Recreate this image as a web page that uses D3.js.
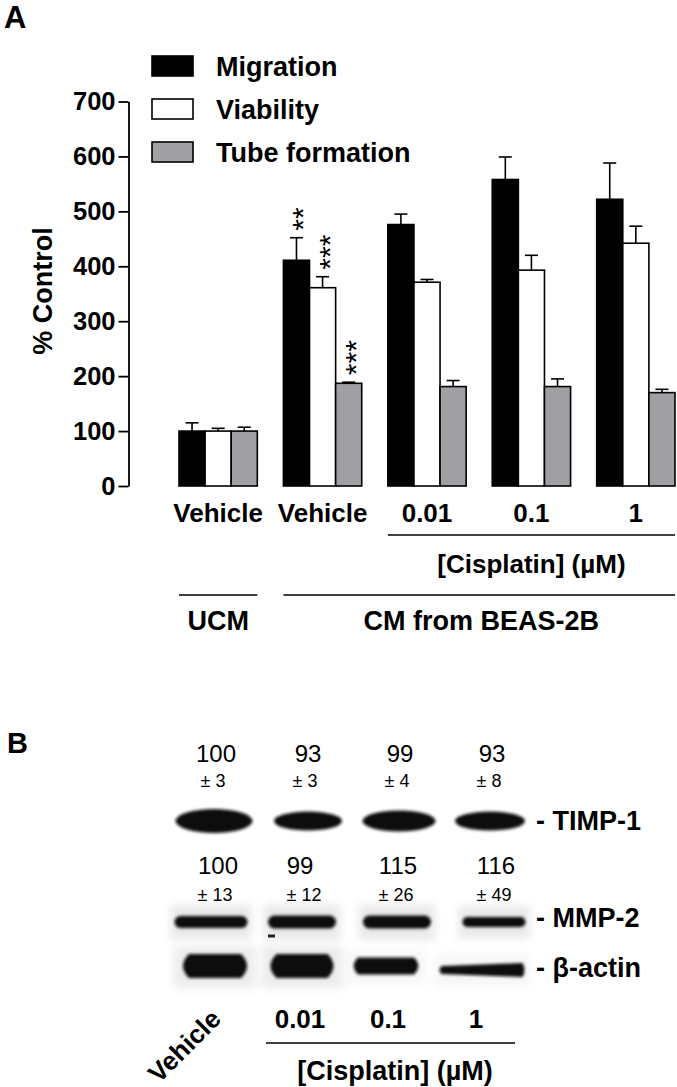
<!DOCTYPE html>
<html><head><meta charset="utf-8">
<script src="https://cdn.jsdelivr.net/npm/d3@7"></script>
<style>html,body{margin:0;padding:0;background:#fff;} svg{display:block;}</style>
</head><body><svg id="c" width="677" height="1087"></svg>
<script>
// ---------- Panel A data ----------
const groups = ["UCM Vehicle", "CM Vehicle", "0.01", "0.1", "1"];
const groupLabels = ["Vehicle", "Vehicle", "0.01", "0.1", "1"];
const seriesNames = ["Migration", "Viability", "Tube formation"];
const migration = [100, 411, 476, 558, 522];
const migrationErr = [15, 41, 19, 41, 66];
const viability = [100, 361, 371, 393, 442];
const viabilityErr = [5, 20, 5, 27, 31];
const tube = [100, 187, 181, 181, 170];
const tubeErr = [7, 2, 11, 14, 6];
const migrationSig = ["", "**", "", "", ""];
const viabilitySig = ["", "***", "", "", ""];
const tubeSig = ["", "***", "", "", ""];
const yTicks = [0, 100, 200, 300, 400, 500, 600, 700];

// ---------- Panel B data ----------
const lanes = ["Vehicle", "0.01", "0.1", "1"];
const timpMean = [100, 93, 99, 93];
const timpSE = [3, 3, 4, 8];
const mmpMean = [100, 99, 115, 116];
const mmpSE = [13, 12, 26, 49];
const blotRows = ["TIMP-1", "MMP-2", "β-actin"];

// ---------- drawing ----------
const F = "'Liberation Sans', Arial, Helvetica, sans-serif";
const svg = d3.select("#c");
svg.append("rect").attr("width", 677).attr("height", 1087).attr("fill", "#fff");

function txt(x, y, s, size, weight, anchor, transform) {
  const t = svg.append("text")
    .attr("font-family", F).attr("font-size", size)
    .attr("font-weight", weight || "normal")
    .attr("text-anchor", anchor || "start")
    .attr("fill", "#000").text(s);
  if (transform) t.attr("transform", transform);
  else t.attr("x", x).attr("y", y);
  return t;
}

// Panel A label
txt(4, 28, "A", 31, "bold");

// scales
const y = d3.scaleLinear().domain([0, 700]).range([486, 101.5]);
const x0 = d3.scaleBand().domain(groups).range([179, 675]).paddingInner(0.25).paddingOuter(0);
const x1 = d3.scaleBand().domain(seriesNames).range([0, x0.bandwidth()]);

// y axis
const gAxis = svg.append("g").attr("transform", "translate(128.5,0)")
  .call(d3.axisLeft(y).tickValues(yTicks).tickSize(10).tickSizeOuter(0).tickPadding(3));
gAxis.selectAll("path,line").attr("stroke", "#000").attr("stroke-width", 1.8);
gAxis.selectAll("text").attr("font-family", F).attr("font-size", 25.5)
  .attr("font-weight", "bold").attr("fill", "#000");

// y title
txt(0, 0, "% Control", 27, "bold", "middle", "translate(52,291) rotate(-90)");

const series = [
  { name: "Migration", vals: migration, err: migrationErr, sig: migrationSig, fill: "#000" },
  { name: "Viability", vals: viability, err: viabilityErr, sig: viabilitySig, fill: "#fff" },
  { name: "Tube formation", vals: tube, err: tubeErr, sig: tubeSig, fill: "#a0a0a4" }
];

series.forEach(s => {
  const g = svg.append("g");
  groups.forEach((grp, i) => {
    const bx = x0(grp) + x1(s.name), bw = x1.bandwidth();
    const v = s.vals[i], e = s.err[i];
    const cx = bx + bw / 2;
    // error bar (upper only)
    g.append("line").attr("x1", cx).attr("x2", cx).attr("y1", y(v)).attr("y2", y(v + e))
      .attr("stroke", "#000").attr("stroke-width", 1.6);
    g.append("line").attr("x1", cx - 6.5).attr("x2", cx + 6.5).attr("y1", y(v + e)).attr("y2", y(v + e))
      .attr("stroke", "#000").attr("stroke-width", 1.6);
    g.append("rect").attr("x", bx).attr("y", y(v)).attr("width", bw).attr("height", y(0) - y(v))
      .attr("fill", s.fill).attr("stroke", "#000").attr("stroke-width", 1.6);
    // significance stars, stacked vertically (rotated text)
    if (s.sig[i]) {
      const y0 = y(v + e) - 7;
      txt(0, 0, s.sig[i], 30, "normal", "start", `translate(${cx + 17},${y0}) rotate(-90)`);
    }
  });
});

// legend
series.forEach((s, i) => {
  const ly = 56 + i * 43;
  svg.append("rect").attr("x", 152).attr("y", ly).attr("width", 41).attr("height", 20)
    .attr("fill", s.fill).attr("stroke", "#000").attr("stroke-width", 1.6);
  txt(216, ly + 20, s.name, 27, "bold");
});

// category labels
groups.forEach((grp, i) => {
  txt(x0(grp) + x0.bandwidth() / 2, 522, groupLabels[i], 26, "bold", "middle");
});

// bracket lines & group titles
const cisX0 = x0(groups[2]), cisX1 = x0(groups[4]) + x0.bandwidth();
svg.append("line").attr("x1", cisX0).attr("x2", cisX1).attr("y1", 535).attr("y2", 535)
  .attr("stroke", "#000").attr("stroke-width", 1.3);
txt((cisX0 + cisX1) / 2, 573, "[Cisplatin] (µM)", 26, "bold", "middle");

const ucmX0 = x0(groups[0]), ucmX1 = x0(groups[0]) + x0.bandwidth();
const cmX0 = x0(groups[1]), cmX1 = x0(groups[4]) + x0.bandwidth();
svg.append("line").attr("x1", ucmX0).attr("x2", ucmX1).attr("y1", 595).attr("y2", 595)
  .attr("stroke", "#000").attr("stroke-width", 1.3);
svg.append("line").attr("x1", cmX0).attr("x2", cmX1).attr("y1", 595).attr("y2", 595)
  .attr("stroke", "#000").attr("stroke-width", 1.3);
txt((ucmX0 + ucmX1) / 2, 630, "UCM", 27, "bold", "middle");
txt((cmX0 + cmX1) / 2 + 2, 630, "CM from BEAS-2B", 27, "bold", "middle");

// ---------- Panel B ----------
txt(7, 753, "B", 29, "bold");

const lane = d3.scalePoint().domain(lanes).range([214, 490]);

// blur filters
const defs = svg.append("defs");
defs.append("filter").attr("id", "blur").attr("x", "-20%").attr("y", "-60%").attr("width", "140%").attr("height", "220%")
  .append("feGaussianBlur").attr("stdDeviation", 1.6);
defs.append("filter").attr("id", "halo").attr("x", "-30%").attr("y", "-100%").attr("width", "160%").attr("height", "300%")
  .append("feGaussianBlur").attr("stdDeviation", 4);

// numbers above bands
lanes.forEach((l, i) => {
  txt(lane(l) + 2, 761.5, String(timpMean[i]), 24, "normal", "middle");
  txt(lane(l) - 1, 787, "± " + timpSE[i], 18, "normal", "middle");
  txt(lane(l) + [4, -6, 0, 6][i], 874, String(mmpMean[i]), 24, "normal", "middle");
  txt(lane(l) + [1, -2, -2, 4][i], 901, "± " + mmpSE[i], 18, "normal", "middle");
});

const bandG = svg.append("g");
// TIMP-1 bands (lens shaped)
const timpGeom = [[0, 77, 24], [2, 68, 19], [1, 73, 21], [0, 70, 19]];
lanes.forEach((l, i) => {
  const [dx, w, h] = timpGeom[i];
  bandG.append("ellipse").attr("cx", lane(l) + dx).attr("cy", 821).attr("rx", w / 2).attr("ry", h / 2)
    .attr("fill", "#111").attr("filter", "url(#blur)");
});
// MMP-2 bands with faint background
const mmpGeom = [[-3, 73, 12], [-4, 68, 13], [-1, 68, 13], [4, 63, 10]];
lanes.forEach((l, i) => {
  const [dx, w, h] = mmpGeom[i];
  bandG.append("rect").attr("x", lane(l) + dx - w / 2 - 4).attr("y", 921 - h / 2 - 10)
    .attr("width", w + 8).attr("height", h + 22).attr("fill", "#999").attr("opacity", 0.22)
    .attr("filter", "url(#halo)");
  bandG.append("rect").attr("x", lane(l) + dx - w / 2).attr("y", 922 - h / 2).attr("width", w).attr("height", h)
    .attr("rx", h / 2).attr("fill", "#111").attr("filter", "url(#blur)");
});
bandG.append("rect").attr("x", 268).attr("y", 934.5).attr("width", 7).attr("height", 3).attr("fill", "#222");
// beta-actin bands
const actinGeom = [[1, 76, 24, 24], [-4, 75, 24, 24], [-12, 73, 17, 17], [-8, 89, 8, 14]];
lanes.forEach((l, i) => {
  const [dx, w, hl, hr] = actinGeom[i];
  const cx = lane(l) + dx, cy = 966 + (i === 3 ? 4 : 0);
  bandG.append("rect").attr("x", cx - w / 2 - 3).attr("y", cy - hr / 2 - 8)
    .attr("width", w + 6).attr("height", hr + 18).attr("fill", "#999").attr("opacity", i < 2 ? 0.18 : 0.08)
    .attr("filter", "url(#halo)");
  const p = d3.path();
  const r = Math.min(hl, hr) / 2;
  p.moveTo(cx - w / 2 + r, cy - hl / 2);
  p.lineTo(cx + w / 2 - r, cy - hr / 2);
  p.quadraticCurveTo(cx + w / 2, cy, cx + w / 2 - r, cy + hr / 2);
  p.lineTo(cx - w / 2 + r, cy + hl / 2);
  p.quadraticCurveTo(cx - w / 2, cy, cx - w / 2 + r, cy - hl / 2);
  p.closePath();
  bandG.append("path").attr("d", p.toString()).attr("fill", "#111").attr("filter", "url(#blur)");
});

// row labels
const rowY = [830, 927, 977];
blotRows.forEach((r, i) => txt(536, rowY[i], "- " + r, 27, "bold"));

// lane labels
txt(0, 0, lanes[0], 26, "bold", "start", "translate(159,1084) rotate(-45)");
const conc = lanes.slice(1);
const concX = d3.scalePoint().domain(conc).range([300, 476]);
conc.forEach(c => txt(concX(c), 1028, c, 26, "bold", "middle"));
svg.append("line").attr("x1", 266).attr("x2", 515).attr("y1", 1043).attr("y2", 1043)
  .attr("stroke", "#000").attr("stroke-width", 1.3);
txt(395, 1080, "[Cisplatin] (µM)", 27, "bold", "middle");
</script>
</body></html>
